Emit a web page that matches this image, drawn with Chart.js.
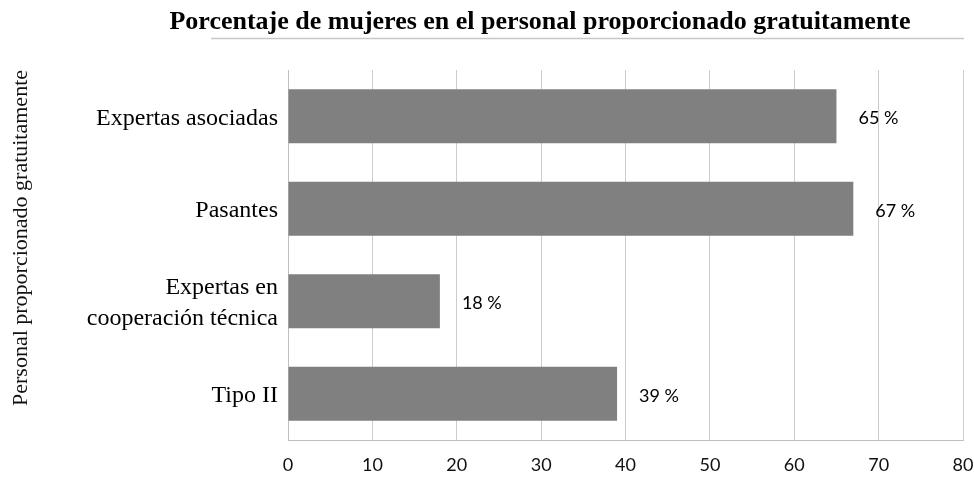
<!DOCTYPE html>
<html>
<head>
<meta charset="utf-8">
<script src="https://cdn.jsdelivr.net/npm/chart.js@4/dist/chart.umd.min.js"></script>
<style>
    html, body { margin: 0; padding: 0; background: #ffffff; }
    #chart-block { width: 974px; height: 478px; }
</style>
</head>
<body>
<div id="chart-block"><canvas id="chart"></canvas></div>
<script>
'use strict';
// данные графика
const categories = ['Expertas asociadas', 'Pasantes', ['Expertas en', 'cooperación técnica'], 'Tipo II'];
const percentValues = [65, 67, 18, 39];
const xTicks = [0, 10, 20, 30, 40, 50, 60, 70, 80];

const chartTitle = 'Porcentaje de mujeres en el personal proporcionado gratuitamente';
const axisTitleY = 'Personal proporcionado gratuitamente';

const serifFont = "'Liberation Serif', 'Times New Roman', serif";
const sansFont = "Lato, 'Open Sans', sans-serif";
const gridColor = '#cccccc';

// подписи значений справа от полосок
const valueLabels = {
    id: 'valueLabels',
    afterDatasetsDraw(chart) {
        const ctx = chart.ctx;
        const meta = chart.getDatasetMeta(0);
        ctx.save();
        ctx.font = '18px ' + sansFont;
        ctx.fillStyle = '#000000';
        ctx.textAlign = 'left';
        ctx.textBaseline = 'middle';
        for (let i = 0; i < meta.data.length; i++) {
            const bar = meta.data[i];
            ctx.fillText(percentValues[i] + ' %', bar.x + 22, bar.y + 2);
        }
        ctx.restore();
    }
};

// заголовок, линия под ним и подпись оси y
const titles = {
    id: 'titles',
    afterDraw(chart) {
        const ctx = chart.ctx;
        const area = chart.chartArea;
        ctx.save();
        ctx.fillStyle = '#000000';
        ctx.font = 'bold 26px ' + serifFont;
        ctx.textAlign = 'center';
        ctx.textBaseline = 'alphabetic';
        ctx.fillText(chartTitle, 540, 29);

        ctx.strokeStyle = '#c8c8c8';
        ctx.lineWidth = 1.5;
        ctx.beginPath();
        ctx.moveTo(211, 38.5);
        ctx.lineTo(area.right + 1, 38.5);
        ctx.stroke();

        ctx.translate(21, 238);
        ctx.rotate(-Math.PI / 2);
        ctx.font = '22px ' + serifFont;
        ctx.fillStyle = '#111111';
        ctx.textBaseline = 'middle';
        ctx.fillText(axisTitleY, 0, 0);
        ctx.restore();
    }
};

const chart = new Chart(document.getElementById('chart'), {
    type: 'bar',
    data: {
        labels: categories,
        datasets: [{
            data: percentValues,
            backgroundColor: '#808080',
            borderWidth: 0,
            categoryPercentage: 0.585,
            barPercentage: 1
        }]
    },
    plugins: [valueLabels, titles],
    options: {
        indexAxis: 'y',
        responsive: true,
        maintainAspectRatio: false,
        animation: false,
        layout: {
            padding: { top: 70, right: 11, bottom: 0, left: 0 }
        },
        plugins: {
            legend: { display: false },
            tooltip: { enabled: false },
            title: { display: false }
        },
        scales: {
            x: {
                min: 0,
                max: 80,
                afterBuildTicks(scale) {
                    scale.ticks = xTicks.map(v => ({ value: v }));
                },
                afterFit(scale) {
                    scale.height = 38;
                    scale.paddingLeft = 0;
                    scale.paddingRight = 0;
                },
                grid: {
                    color: gridColor,
                    lineWidth: 1,
                    drawTicks: false
                },
                border: { color: '#bfbfbf', width: 1 },
                ticks: {
                    padding: 14,
                    color: '#111111',
                    font: { family: sansFont, size: 18 }
                }
            },
            y: {
                afterFit(scale) {
                    scale.width = 288;
                    scale.paddingTop = 0;
                    scale.paddingBottom = 0;
                },
                grid: { display: false, drawTicks: false },
                border: { color: '#bfbfbf', width: 1 },
                ticks: {
                    padding: 10,
                    labelOffset: 2,
                    color: '#000000',
                    font: { family: serifFont, size: 24, lineHeight: 1.3 }
                }
            }
        }
    }
});
</script>
</body>
</html>
